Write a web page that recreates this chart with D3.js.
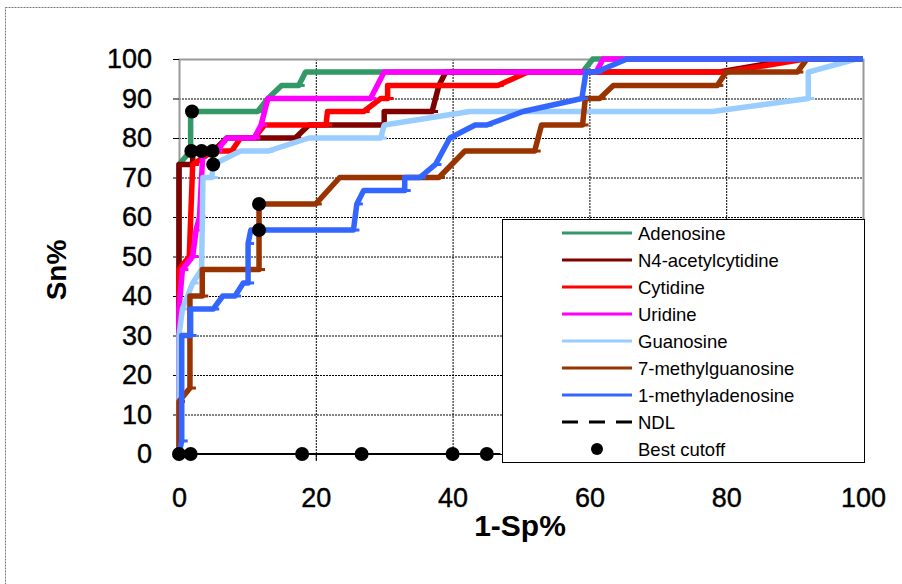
<!DOCTYPE html>
<html>
<head>
<meta charset="utf-8">
<script src="https://cdn.jsdelivr.net/npm/d3@7"></script>
<style>
  body { margin: 0; background: #fff; }
  text { font-family: "Liberation Sans", Arial, sans-serif; }
</style>
</head>
<body>
<div id="chart"></div>
<script>
// series names, in legend / drawing order
var seriesNames = ["Adenosine", "N4-acetylcytidine", "Cytidine", "Uridine", "Guanosine", "7-methylguanosine", "1-methyladenosine"];
var seriesColors = ["#339966", "#800000", "#ff0000", "#ff00ff", "#99ccff", "#993300", "#3366ff"];

// ROC points, [1-Sp%, Sn%]
var adenosine = [[0,0],[0,73.3],[1.7,76.7],[1.7,86.7],[11.5,86.7],[13,90],[15,93.3],[17.5,93.3],[18.5,96.7],[59,96.7],[60.5,100],[100,100]];
var n4acetylcytidine = [[0,0],[0,73.3],[2,73.3],[2,76.7],[5,76.7],[7,80],[17,80],[19,83.3],[30,83.3],[30,86.7],[37,86.7],[38,93.3],[39,96.7],[79,96.7],[90,100],[100,100]];
var cytidine = [[0,0],[0,46.7],[1.5,50],[2,73.3],[5,76.7],[7.7,76.7],[9,80],[11,80],[12.5,83.3],[21.5,83.3],[21.7,86.7],[27,86.7],[29.5,90],[30.5,90],[30.5,93.3],[46.6,93.3],[51,96.7],[80,96.7],[91.5,100],[100,100]];
var uridine = [[0,0],[0,36.7],[0.5,46.7],[2,50],[2.5,56.7],[3,60],[3.5,76.7],[5.5,76.7],[7,80],[11,80],[12,83.3],[13,90],[28,90],[30,96.7],[61,96.7],[62,100],[100,100]];
var guanosine = [[0,0],[0,30],[0.5,36.7],[2,43.3],[3.3,46.7],[3.5,70],[4.8,70],[5,73.3],[9,76.7],[13,76.7],[19,80],[29.5,80],[30,83.3],[42.5,86.7],[78,86.7],[92,90],[92,96.7],[99,100],[100,100]];
var methylguanosine7 = [[0,0],[0,13.3],[1.6,16.7],[1.6,40],[3.4,40],[3.4,46.7],[11.7,46.7],[11.7,63.3],[20,63.3],[23.5,70],[38,70],[41.8,76.7],[52,76.7],[53,83.3],[59,83.3],[59.4,90],[61.5,90],[63.5,93.3],[78.7,93.3],[80,96.7],[90.4,96.7],[91.8,100],[100,100]];
var methyladenosine1 = [[0,0],[0.4,3.3],[0.4,30],[1.7,30],[1.7,36.7],[5,36.7],[6.4,40],[8.2,40],[9.4,43.3],[10.1,43.3],[10.1,53.3],[10.5,56.7],[25.5,56.7],[26,63.3],[27,66.7],[33,66.7],[33,70],[35.2,70],[37.5,73.3],[39.6,80],[43.3,83.3],[45,83.3],[50.3,86.7],[58.9,90],[59.5,96.7],[61,96.7],[65.5,100],[100,100]];
var seriesData = [adenosine, n4acetylcytidine, cytidine, uridine, guanosine, methylguanosine7, methyladenosine1];

// NDL line along the x axis and best cutoff points
var ndl = [[0,0],[1.7,0],[18,0],[26.7,0],[40,0],[45,0],[47,0]];
var bestCutoff = [[1.9,86.7],[1.8,76.7],[3.3,76.7],[4.9,76.7],[5,73.3],[11.7,63.3],[11.7,56.7],
                  [0,0],[1.7,0],[18,0],[26.7,0],[40,0],[45,0]];

var ticks = [0, 10, 20, 30, 40, 50, 60, 70, 80, 90, 100];
var xTicks = [0, 20, 40, 60, 80, 100];

var svgWidth = 902, svgHeight = 584;
var margin = {top: 59, left: 179, right: 39, bottom: 130};
var chartWidth = svgWidth - margin.left - margin.right;
var chartHeight = svgHeight - margin.top - margin.bottom;

var svg = d3.select('#chart').append('svg').attr('width', svgWidth).attr('height', svgHeight);

// outer chart frame
svg.append('rect').attr('x', 5.5).attr('y', 7.5).attr('width', 920).attr('height', 600)
  .attr('fill', 'none').attr('stroke', '#777').attr('stroke-dasharray', '2,1');

var chartGroup = svg.append('g').attr('transform', `translate(${margin.left},${margin.top})`);

var xScale = d3.scaleLinear().domain([0, 100]).range([0, chartWidth]);
var yScale = d3.scaleLinear().domain([0, 100]).range([chartHeight, 0]);

// gridlines
chartGroup.append('g').selectAll('line').data(ticks.slice(1, -1)).enter().append('line')
  .attr('x1', 0).attr('x2', chartWidth)
  .attr('y1', d => yScale(d) + 0.5).attr('y2', d => yScale(d) + 0.5)
  .attr('stroke', '#000').attr('stroke-dasharray', '2,1');
chartGroup.append('g').selectAll('line').data(xTicks.slice(1, -1)).enter().append('line')
  .attr('x1', d => xScale(d) + 0.5).attr('x2', d => xScale(d) + 0.5)
  .attr('y1', 0).attr('y2', chartHeight + 7)
  .attr('stroke', '#000').attr('stroke-dasharray', '2,1');
chartGroup.append('line').attr('x1', 0).attr('x2', chartWidth)
  .attr('y1', chartHeight + 0.5).attr('y2', chartHeight + 0.5)
  .attr('stroke', '#000').attr('stroke-dasharray', '2,1');

// plot frame (grey)
chartGroup.append('path')
  .attr('d', `M0.5,${chartHeight}V0.5H${chartWidth + 0.5}V${chartHeight}`)
  .attr('fill', 'none').attr('stroke', '#999').attr('stroke-width', 2);

// axes
var leftAxis = d3.axisLeft(yScale).tickValues(ticks).tickSize(6).tickPadding(21);
var bottomAxis = d3.axisBottom(xScale).tickValues(xTicks).tickSize(7).tickPadding(27);

var yAxisG = chartGroup.append('g').call(leftAxis);
var xAxisG = chartGroup.append('g').attr('transform', `translate(0,${chartHeight})`).call(bottomAxis);
[yAxisG, xAxisG].forEach(g => {
  g.select('.domain').remove();
  g.selectAll('.tick line').attr('stroke', '#000');
  g.selectAll('.tick text').attr('font-size', 27).attr('fill', '#000')
    .attr('stroke', '#000').attr('stroke-width', 0.4)
    .style('font-family', '"Liberation Sans", Arial, sans-serif');
});

// axis titles
svg.append('text').attr('x', 520).attr('y', 536).attr('text-anchor', 'middle')
  .attr('font-size', 30).attr('font-weight', 'bold').text('1-Sp%');
svg.append('text').attr('transform', 'translate(66,270) rotate(-90)').attr('text-anchor', 'middle')
  .attr('font-size', 28).attr('font-weight', 'bold').text('Sn%');

// ROC lines
var line = d3.line().x(d => xScale(d[0])).y(d => yScale(d[1]));

seriesData.forEach((data, i) => {
  chartGroup.append('path')
    .datum(data)
    .attr('d', line)
    .attr('fill', 'none')
    .attr('stroke', seriesColors[i])
    .attr('stroke-width', 5.5)
    .attr('stroke-linejoin', 'round');
  // small dash markers at the points
  chartGroup.append('g').selectAll('rect').data(data.slice(1, -1)).enter().append('rect')
    .attr('x', d => xScale(d[0]) - 1).attr('y', d => yScale(d[1]) - 1.5)
    .attr('width', 7).attr('height', 3)
    .attr('fill', seriesColors[i]);
});

// NDL
chartGroup.append('path').datum(ndl).attr('d', line)
  .attr('fill', 'none').attr('stroke', '#000').attr('stroke-width', 2);

// best cutoff dots
chartGroup.append('g').selectAll('circle').data(bestCutoff).enter().append('circle')
  .attr('cx', d => xScale(d[0])).attr('cy', d => yScale(d[1]))
  .attr('r', 7).attr('fill', '#000');

// legend
var legendItems = seriesNames.concat(['NDL', 'Best cutoff']);
var legend = svg.append('g').attr('transform', 'translate(502,219)');
legend.append('rect').attr('x', 0.5).attr('y', 0.5).attr('width', 362).attr('height', 243)
  .attr('fill', '#fff').attr('stroke', '#000');
legendItems.forEach((name, i) => {
  var yy = 14 + i * 27;
  if (i < seriesNames.length) {
    legend.append('line').attr('x1', 60).attr('x2', 130).attr('y1', yy).attr('y2', yy)
      .attr('stroke', seriesColors[i]).attr('stroke-width', 3);
  } else if (name === 'NDL') {
    legend.append('line').attr('x1', 60).attr('x2', 130).attr('y1', yy).attr('y2', yy)
      .attr('stroke', '#000').attr('stroke-width', 3).attr('stroke-dasharray', '16,11');
  } else {
    legend.append('circle').attr('cx', 95).attr('cy', yy).attr('r', 6).attr('fill', '#000');
  }
  legend.append('text').attr('x', 136).attr('y', yy + 6.5)
    .attr('font-size', 18.5).attr('fill', '#000').text(name);
});
</script>
</body>
</html>
